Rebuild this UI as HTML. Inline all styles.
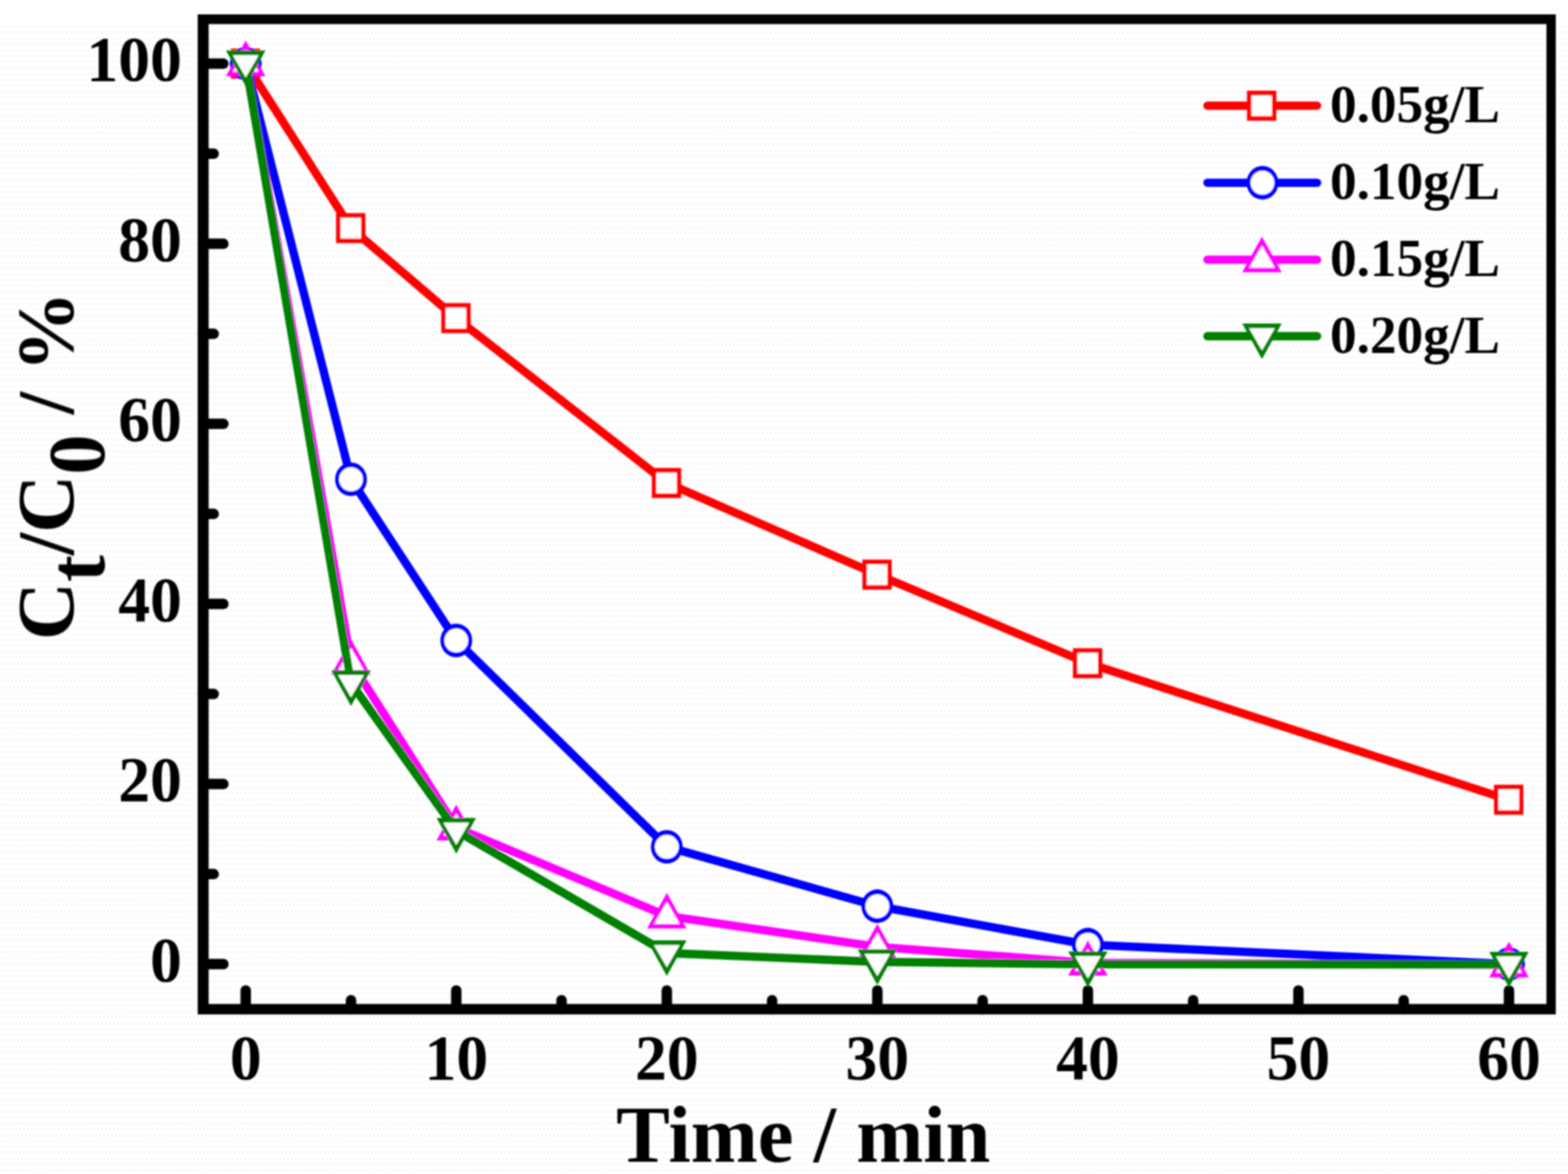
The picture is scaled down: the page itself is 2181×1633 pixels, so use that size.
<!DOCTYPE html>
<html lang="en">
<head>
<meta charset="utf-8">
<title>Ct/C0 versus time for different catalyst dosages</title>
<style>
html,body{margin:0;padding:0;background:#fff;}
body{width:2181px;height:1633px;overflow:hidden;}
svg{display:block;}
text{font-family:"Liberation Serif","DejaVu Serif",serif;font-weight:bold;fill:#000;}
.tick{font-size:88.5px;}
.title{font-size:112px;}
.leg{font-size:74px;}
</style>
</head>
<body>
<svg width="2181" height="1633" viewBox="0 0 2181 1633">
<defs>
<pattern id="dither" x="2" y="3" width="5.44" height="16.4" patternUnits="userSpaceOnUse">
<rect x="0" y="0" width="3" height="3" fill="#f8f8f8"/>
<rect x="2.72" y="8.2" width="3" height="3" fill="#f8f8f8"/>
</pattern>
<filter id="soft" filterUnits="userSpaceOnUse" x="0" y="0" width="2181" height="1633"><feGaussianBlur stdDeviation="0.9"/></filter>
</defs>
<rect x="0" y="0" width="2181" height="1633" fill="#ffffff"/>
<rect x="0" y="36" width="2181" height="1597" fill="url(#dither)"/>
<g filter="url(#soft)">
<g stroke="#000" stroke-width="14.5" stroke-linecap="round" fill="none">
<line x1="282" y1="1341" x2="310.75" y2="1341"/>
<line x1="282" y1="1215.76" x2="297.25" y2="1215.76"/>
<line x1="282" y1="1090.52" x2="310.75" y2="1090.52"/>
<line x1="282" y1="965.28" x2="297.25" y2="965.28"/>
<line x1="282" y1="840.04" x2="310.75" y2="840.04"/>
<line x1="282" y1="714.8" x2="297.25" y2="714.8"/>
<line x1="282" y1="589.56" x2="310.75" y2="589.56"/>
<line x1="282" y1="464.32" x2="297.25" y2="464.32"/>
<line x1="282" y1="339.08" x2="310.75" y2="339.08"/>
<line x1="282" y1="213.84" x2="297.25" y2="213.84"/>
<line x1="282" y1="88.6" x2="310.75" y2="88.6"/>
<line x1="341.8" y1="1404" x2="341.8" y2="1377.75"/>
<line x1="488.23" y1="1404" x2="488.23" y2="1391.25"/>
<line x1="634.65" y1="1404" x2="634.65" y2="1377.75"/>
<line x1="781.08" y1="1404" x2="781.08" y2="1391.25"/>
<line x1="927.5" y1="1404" x2="927.5" y2="1377.75"/>
<line x1="1073.92" y1="1404" x2="1073.92" y2="1391.25"/>
<line x1="1220.35" y1="1404" x2="1220.35" y2="1377.75"/>
<line x1="1366.77" y1="1404" x2="1366.77" y2="1391.25"/>
<line x1="1513.2" y1="1404" x2="1513.2" y2="1377.75"/>
<line x1="1659.62" y1="1404" x2="1659.62" y2="1391.25"/>
<line x1="1806.05" y1="1404" x2="1806.05" y2="1377.75"/>
<line x1="1952.47" y1="1404" x2="1952.47" y2="1391.25"/>
<line x1="2098.9" y1="1404" x2="2098.9" y2="1377.75"/>
</g>
<path fill="#000" fill-rule="evenodd" d="M275 20H2164V1411H275Z M290.2 33.5H2151V1396.5H290.2Z"/>
<g class="tick" text-anchor="end">
<text x="253" y="1364.6">0</text>
<text x="253" y="1114.12">20</text>
<text x="253" y="863.64">40</text>
<text x="253" y="613.16">60</text>
<text x="253" y="362.68">80</text>
<text x="253" y="112.2">100</text>
</g>
<g class="tick" text-anchor="middle">
<text x="341.8" y="1501.3">0</text>
<text x="634.65" y="1501.3">10</text>
<text x="927.5" y="1501.3">20</text>
<text x="1220.35" y="1501.3">30</text>
<text x="1513.2" y="1501.3">40</text>
<text x="1806.05" y="1501.3">50</text>
<text x="2098.9" y="1501.3">60</text>
</g>
<text class="title" x="857" y="1616">Time / min</text>
<text class="title" transform="translate(102 890.5) rotate(-90)" x="0" y="0">C<tspan dy="43">t</tspan><tspan dy="-43">/C</tspan><tspan dy="43">0</tspan><tspan dy="-43"> / %</tspan></text>
<g>
<polyline points="341.8,88.5 488.23,317.3 634.65,442.5 927.5,671.8 1220.35,799.3 1513.2,922.5 2098.9,1112.4" fill="none" stroke="#ff0000" stroke-width="11.6" stroke-linejoin="round" stroke-linecap="butt"/>
<rect x="321" y="67.6" width="40.8" height="41.8" fill="#ff0000"/><rect x="327.1" y="74.1" width="28.6" height="28.8" fill="#fff"/>
<rect x="467.43" y="296.4" width="40.8" height="41.8" fill="#ff0000"/><rect x="473.53" y="302.9" width="28.6" height="28.8" fill="#fff"/>
<rect x="613.85" y="421.6" width="40.8" height="41.8" fill="#ff0000"/><rect x="619.95" y="428.1" width="28.6" height="28.8" fill="#fff"/>
<rect x="906.7" y="650.9" width="40.8" height="41.8" fill="#ff0000"/><rect x="912.8" y="657.4" width="28.6" height="28.8" fill="#fff"/>
<rect x="1199.55" y="778.4" width="40.8" height="41.8" fill="#ff0000"/><rect x="1205.65" y="784.9" width="28.6" height="28.8" fill="#fff"/>
<rect x="1492.4" y="901.6" width="40.8" height="41.8" fill="#ff0000"/><rect x="1498.5" y="908.1" width="28.6" height="28.8" fill="#fff"/>
<rect x="2078.1" y="1091.5" width="40.8" height="41.8" fill="#ff0000"/><rect x="2084.2" y="1098" width="28.6" height="28.8" fill="#fff"/>
</g>
<g>
<polyline points="341.8,88.5 488.23,666.7 634.65,890.9 927.5,1177.9 1220.35,1260.5 1513.2,1314 2098.9,1341" fill="none" stroke="#0000ff" stroke-width="11.6" stroke-linejoin="round" stroke-linecap="butt"/>
<ellipse cx="341.8" cy="88.5" rx="22.1" ry="23.4" fill="#0000ff"/><ellipse cx="341.8" cy="88.5" rx="16.6" ry="16.6" fill="#fff"/>
<ellipse cx="488.23" cy="666.7" rx="22.1" ry="23.4" fill="#0000ff"/><ellipse cx="488.23" cy="666.7" rx="16.6" ry="16.6" fill="#fff"/>
<ellipse cx="634.65" cy="890.9" rx="22.1" ry="23.4" fill="#0000ff"/><ellipse cx="634.65" cy="890.9" rx="16.6" ry="16.6" fill="#fff"/>
<ellipse cx="927.5" cy="1177.9" rx="22.1" ry="23.4" fill="#0000ff"/><ellipse cx="927.5" cy="1177.9" rx="16.6" ry="16.6" fill="#fff"/>
<ellipse cx="1220.35" cy="1260.5" rx="22.1" ry="23.4" fill="#0000ff"/><ellipse cx="1220.35" cy="1260.5" rx="16.6" ry="16.6" fill="#fff"/>
<ellipse cx="1513.2" cy="1314" rx="22.1" ry="23.4" fill="#0000ff"/><ellipse cx="1513.2" cy="1314" rx="16.6" ry="16.6" fill="#fff"/>
<ellipse cx="2098.9" cy="1341" rx="22.1" ry="23.4" fill="#0000ff"/><ellipse cx="2098.9" cy="1341" rx="16.6" ry="16.6" fill="#fff"/>
</g>
<g>
<polyline points="341.8,88.5 488.23,921 634.65,1151.3 927.5,1274 1220.35,1317 1513.2,1339.3 2098.9,1341.8" fill="none" stroke="#ff00ff" stroke-width="11.6" stroke-linejoin="round" stroke-linecap="butt"/>
<polygon points="341.8,56.5 369.2,106.1 314.4,106.1" fill="#ff00ff"/><polygon points="341.8,68.7 359.8,99.7 323.8,99.7" fill="#fff"/>
<polygon points="488.23,889 515.62,938.6 460.83,938.6" fill="#ff00ff"/><polygon points="488.23,901.2 506.23,932.2 470.23,932.2" fill="#fff"/>
<polygon points="634.65,1119.3 662.05,1168.9 607.25,1168.9" fill="#ff00ff"/><polygon points="634.65,1131.5 652.65,1162.5 616.65,1162.5" fill="#fff"/>
<polygon points="927.5,1242 954.9,1291.6 900.1,1291.6" fill="#ff00ff"/><polygon points="927.5,1254.2 945.5,1285.2 909.5,1285.2" fill="#fff"/>
<polygon points="1220.35,1285 1247.75,1334.6 1192.95,1334.6" fill="#ff00ff"/><polygon points="1220.35,1297.2 1238.35,1328.2 1202.35,1328.2" fill="#fff"/>
<polygon points="1513.2,1307.3 1540.6,1356.9 1485.8,1356.9" fill="#ff00ff"/><polygon points="1513.2,1319.5 1531.2,1350.5 1495.2,1350.5" fill="#fff"/>
<polygon points="2098.9,1309.8 2126.3,1359.4 2071.5,1359.4" fill="#ff00ff"/><polygon points="2098.9,1322 2116.9,1353 2080.9,1353" fill="#fff"/>
</g>
<g>
<polyline points="341.8,87.9 488.23,950.1 634.65,1155.4 927.5,1325.6 1220.35,1338 1513.2,1341.2 2098.9,1341.5" fill="none" stroke="#008000" stroke-width="11.6" stroke-linejoin="round" stroke-linecap="butt"/>
<polygon points="341.8,119.9 369.2,70.3 314.4,70.3" fill="#008000"/><polygon points="341.8,107.7 359.8,76.7 323.8,76.7" fill="#fff"/>
<polygon points="488.23,982.1 515.62,932.5 460.83,932.5" fill="#008000"/><polygon points="488.23,969.9 506.23,938.9 470.23,938.9" fill="#fff"/>
<polygon points="634.65,1187.4 662.05,1137.8 607.25,1137.8" fill="#008000"/><polygon points="634.65,1175.2 652.65,1144.2 616.65,1144.2" fill="#fff"/>
<polygon points="927.5,1357.6 954.9,1308 900.1,1308" fill="#008000"/><polygon points="927.5,1345.4 945.5,1314.4 909.5,1314.4" fill="#fff"/>
<polygon points="1220.35,1370 1247.75,1320.4 1192.95,1320.4" fill="#008000"/><polygon points="1220.35,1357.8 1238.35,1326.8 1202.35,1326.8" fill="#fff"/>
<polygon points="1513.2,1373.2 1540.6,1323.6 1485.8,1323.6" fill="#008000"/><polygon points="1513.2,1361 1531.2,1330 1495.2,1330" fill="#fff"/>
<polygon points="2098.9,1373.5 2126.3,1323.9 2071.5,1323.9" fill="#008000"/><polygon points="2098.9,1361.3 2116.9,1330.3 2080.9,1330.3" fill="#fff"/>
</g>
<g>
<line x1="1679.5" y1="147" x2="1832" y2="147" stroke="#ff0000" stroke-width="11.6" stroke-linecap="round"/>
<rect x="1734.5" y="126.1" width="40.8" height="41.8" fill="#ff0000"/><rect x="1740.6" y="132.6" width="28.6" height="28.8" fill="#fff"/>
<text class="leg" x="1850" y="169.6">0.05g/L</text>
</g>
<g>
<line x1="1679.5" y1="254.2" x2="1832" y2="254.2" stroke="#0000ff" stroke-width="11.6" stroke-linecap="round"/>
<ellipse cx="1756" cy="254.2" rx="22.1" ry="23.4" fill="#0000ff"/><ellipse cx="1756" cy="254.2" rx="16.6" ry="16.6" fill="#fff"/>
<text class="leg" x="1850" y="276.8">0.10g/L</text>
</g>
<g>
<line x1="1679.5" y1="361.2" x2="1832" y2="361.2" stroke="#ff00ff" stroke-width="11.6" stroke-linecap="round"/>
<polygon points="1755.3,329.2 1782.7,378.8 1727.9,378.8" fill="#ff00ff"/><polygon points="1755.3,341.4 1773.3,372.4 1737.3,372.4" fill="#fff"/>
<text class="leg" x="1850" y="384">0.15g/L</text>
</g>
<g>
<line x1="1679.5" y1="467.6" x2="1832" y2="467.6" stroke="#008000" stroke-width="11.6" stroke-linecap="round"/>
<polygon points="1755.3,499.6 1782.7,450 1727.9,450" fill="#008000"/><polygon points="1755.3,487.4 1773.3,456.4 1737.3,456.4" fill="#fff"/>
<text class="leg" x="1850" y="491.2">0.20g/L</text>
</g>
</g>
</svg>
</body>
</html>
